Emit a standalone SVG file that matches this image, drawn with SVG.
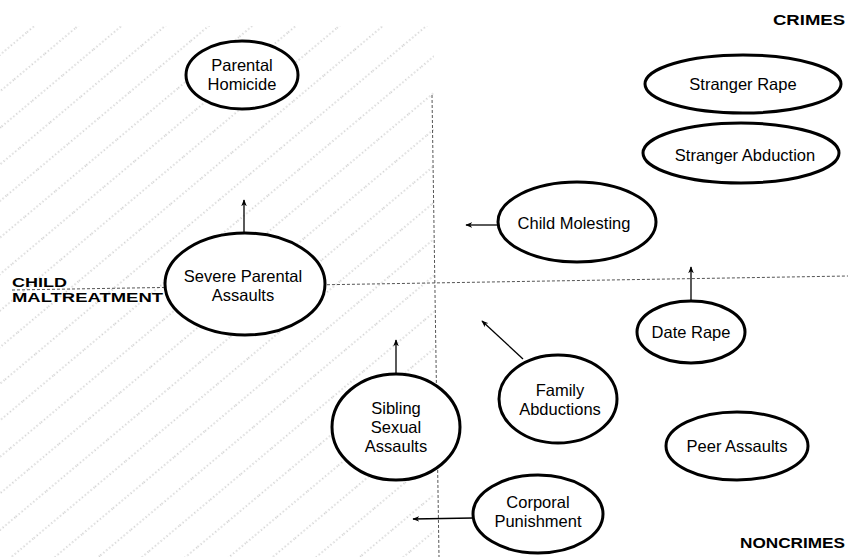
<svg xmlns="http://www.w3.org/2000/svg" width="853" height="557" viewBox="0 0 853 557">
<defs>
<pattern id="hatch" patternUnits="userSpaceOnUse" width="40" height="28" patternTransform="rotate(-40)">
<line x1="0" y1="14" x2="40" y2="14" stroke="#a8a8a8" stroke-width="1" stroke-dasharray="1.2 2.6"/>
</pattern>
<marker id="ah" viewBox="0 0 10 10" refX="9" refY="5" markerWidth="7" markerHeight="7" orient="auto" markerUnits="userSpaceOnUse">
<path d="M0,1 L10,5 L0,9 L3,5 Z" fill="#000"/>
</marker>
</defs>
<style>
.node ellipse{fill:#fff;stroke:#000;stroke-width:3}
.node text{font-family:"Liberation Sans",Arial,sans-serif;font-size:16.5px;fill:#000;text-anchor:middle}
.lbl{font-family:"Liberation Sans",Arial,sans-serif;font-weight:bold;fill:#000}
.arr{stroke:#000;stroke-width:1.3;fill:none;marker-end:url(#ah)}
.axis{stroke:#555;stroke-width:1;stroke-dasharray:3 2;fill:none}
</style>
<rect width="853" height="557" fill="#fff"/>
<rect x="0" y="26" width="434" height="531" fill="url(#hatch)"/>
<g id="axes">
<line class="axis" x1="432" y1="95" x2="439" y2="557"/>
<line class="axis" x1="12" y1="290" x2="848" y2="276"/>
</g>
<g id="labels">
<text class="lbl" x="773" y="25" font-size="14" textLength="72" lengthAdjust="spacingAndGlyphs">CRIMES</text>
<text class="lbl" x="740" y="548" font-size="15" textLength="105" lengthAdjust="spacingAndGlyphs">NONCRIMES</text>
<text class="lbl" x="12" y="287" font-size="13.5" textLength="55" lengthAdjust="spacingAndGlyphs">CHILD</text>
<text class="lbl" x="12" y="302" font-size="13.5" textLength="151" lengthAdjust="spacingAndGlyphs">MALTREATMENT</text>
</g>
<g id="connectors">
<line class="arr" x1="244" y1="233" x2="244" y2="200"/>
<line class="arr" x1="498" y1="225" x2="466" y2="225"/>
<line class="arr" x1="691" y1="301" x2="691" y2="267"/>
<line class="arr" x1="523" y1="359" x2="482" y2="321"/>
<line class="arr" x1="396" y1="373" x2="396" y2="340"/>
<line class="arr" x1="473" y1="518" x2="413" y2="519"/>
</g>
<g id="parental-homicide" class="node">
<ellipse cx="242" cy="75" rx="56" ry="34"/>
<text x="242" y="71">Parental</text>
<text x="242" y="90">Homicide</text>
</g>
<g id="severe-parental-assaults" class="node">
<ellipse cx="245" cy="284" rx="80" ry="51"/>
<text x="243" y="282">Severe Parental</text>
<text x="243" y="301">Assaults</text>
</g>
<g id="sibling-sexual-assaults" class="node">
<ellipse cx="396" cy="427" rx="64" ry="53"/>
<text x="396" y="414">Sibling</text>
<text x="396" y="433">Sexual</text>
<text x="396" y="452">Assaults</text>
</g>
<g id="family-abductions" class="node">
<ellipse cx="558" cy="399" rx="59" ry="44"/>
<text x="560" y="396">Family</text>
<text x="560" y="415">Abductions</text>
</g>
<g id="corporal-punishment" class="node">
<ellipse cx="538" cy="514" rx="65" ry="39"/>
<text x="538" y="508">Corporal</text>
<text x="538" y="527">Punishment</text>
</g>
<g id="child-molesting" class="node">
<ellipse cx="577" cy="222" rx="79" ry="40"/>
<text x="574" y="229">Child Molesting</text>
</g>
<g id="date-rape" class="node">
<ellipse cx="691" cy="332" rx="54" ry="31"/>
<text x="691" y="338">Date Rape</text>
</g>
<g id="stranger-rape" class="node">
<ellipse cx="743" cy="84" rx="98" ry="29"/>
<text x="743" y="90">Stranger Rape</text>
</g>
<g id="stranger-abduction" class="node">
<ellipse cx="741" cy="153" rx="98" ry="30"/>
<text x="745" y="161">Stranger Abduction</text>
</g>
<g id="peer-assaults" class="node">
<ellipse cx="737" cy="446" rx="71" ry="34"/>
<text x="737" y="452">Peer Assaults</text>
</g>
</svg>
